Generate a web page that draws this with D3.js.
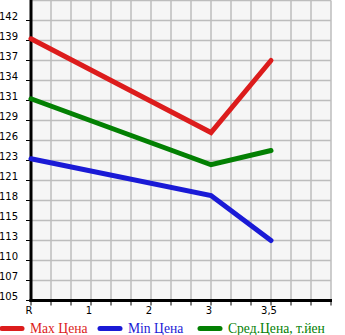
<!DOCTYPE html>
<html>
<head>
<meta charset="utf-8">
<script src="https://cdn.jsdelivr.net/npm/d3@7"></script>
<style>
  body { margin: 0; background: #fff; }
  svg { display: block; }
</style>
</head>
<body>
<div id="chart"></div>
<script>
var categories = ["R", "1", "2", "3", "3,5"];
var yTickLabels = ["105", "107", "110", "113", "115", "118", "121", "123", "126", "129", "131", "134", "137", "139", "142"];
var pointIndex = [0, 3, 4];
var maxValues = [139.9, 127.4, 137];
var minValues = [123.9, 119, 113];
var avgValues = [131.9, 123.1, 125];
var seriesNames = ["Max Цена", "Min Цена", "Сред.Цена, т.йен"];
var seriesColors = ["#dc1c1c", "#1a1ad6", "#038003"];

function drawChart() {
	var width = 345, height = 335;
	var left = 31, plotTop = 0.5, plotW = 300, plotH = 300;

	var svg = d3.select("#chart")
	  .append("svg")
	    .attr("width", width)
	    .attr("height", height);

	var x = d3.scaleLinear().domain([0, 5]).range([left, left + plotW]);
	var y = d3.scaleLinear().domain([105, 145]).range([plotTop + plotH, plotTop]);

	// plot background
	svg.append("rect")
	    .attr("x", left)
	    .attr("y", plotTop)
	    .attr("width", plotW)
	    .attr("height", plotH)
	    .attr("fill", "#f6f6f6");

	// grid
	var xGrid = d3.range(0, 16).map(function(i) { return i / 3; });
	svg.append("g")
	  .selectAll("line")
	  .data(xGrid)
	  .enter().append("line")
	    .attr("x1", function(d) { return Math.round(x(d)); })
	    .attr("x2", function(d) { return Math.round(x(d)); })
	    .attr("y1", plotTop)
	    .attr("y2", plotTop + plotH)
	    .attr("stroke", "#bdbdbd")
	    .attr("stroke-width", 1.5);

	var yGrid = d3.range(0, 16).map(function(i) { return 105 + i * 40 / 15; });
	svg.append("g")
	  .selectAll("line")
	  .data(yGrid)
	  .enter().append("line")
	    .attr("x1", left)
	    .attr("x2", left + plotW)
	    .attr("y1", function(d) { return y(d); })
	    .attr("y2", function(d) { return y(d); })
	    .attr("stroke", "#bdbdbd")
	    .attr("stroke-width", 1.5);

	// y axis labels + ticks
	var yAxis = svg.append("g");
	yAxis.selectAll("line")
	  .data(yTickLabels)
	  .enter().append("line")
	    .attr("x1", left - 5)
	    .attr("x2", left)
	    .attr("y1", function(d, i) { return y(yGrid[i]); })
	    .attr("y2", function(d, i) { return y(yGrid[i]); })
	    .attr("stroke", "#000")
	    .attr("stroke-width", 1);
	yAxis.selectAll("text")
	  .data(yTickLabels)
	  .enter().append("text")
	    .attr("x", 18)
	    .attr("y", function(d, i) { return y(yGrid[i]) - 0.5; })
	    .attr("text-anchor", "end")
	    .attr("font-family", "DejaVu Sans, sans-serif")
	    .attr("font-size", 10)
	    .attr("fill", "#000")
	    .text(function(d) { return d; });

	// x axis ticks + labels
	var xAxis = svg.append("g");
	xAxis.selectAll("line")
	  .data(xGrid)
	  .enter().append("line")
	    .attr("x1", function(d) { return Math.round(x(d)); })
	    .attr("x2", function(d) { return Math.round(x(d)); })
	    .attr("y1", plotTop + plotH)
	    .attr("y2", plotTop + plotH + 5)
	    .attr("stroke", "#000")
	    .attr("stroke-width", 1);
	xAxis.selectAll("text")
	  .data(categories)
	  .enter().append("text")
	    .attr("x", function(d, i) { return x(i) - 2; })
	    .attr("y", 314)
	    .attr("text-anchor", "middle")
	    .attr("font-family", "DejaVu Sans, sans-serif")
	    .attr("font-size", 10)
	    .attr("fill", "#000")
	    .text(function(d) { return d; });

	// axis lines
	svg.append("line")
	    .attr("x1", left).attr("x2", left)
	    .attr("y1", plotTop - 1).attr("y2", plotTop + plotH + 1.5)
	    .attr("stroke", "#000").attr("stroke-width", 3);
	svg.append("line")
	    .attr("x1", left - 1.5).attr("x2", left + plotW + 1)
	    .attr("y1", plotTop + plotH).attr("y2", plotTop + plotH)
	    .attr("stroke", "#000").attr("stroke-width", 3);

	// series
	var line = d3.line()
	    .x(function(d) { return x(d[0]); })
	    .y(function(d) { return y(d[1]); });

	[maxValues, minValues, avgValues].forEach(function(vals, s) {
		var pts = vals.map(function(v, i) { return [pointIndex[i], v]; });
		svg.append("path")
		    .datum(pts)
		    .attr("d", line)
		    .attr("fill", "none")
		    .attr("stroke", seriesColors[s])
		    .attr("stroke-width", 5)
		    .attr("stroke-linejoin", "miter")
		    .attr("stroke-linecap", "round");
	});

	// legend
	var legendX = [2, 100, 200];
	var legend = svg.append("g");
	seriesNames.forEach(function(name, s) {
		legend.append("line")
		    .attr("x1", legendX[s])
		    .attr("x2", legendX[s] + 20)
		    .attr("y1", 328.5)
		    .attr("y2", 328.5)
		    .attr("stroke", seriesColors[s])
		    .attr("stroke-width", 5)
		    .attr("stroke-linecap", "round");
		legend.append("text")
		    .attr("x", legendX[s] + 28)
		    .attr("y", 333)
		    .attr("font-family", "Liberation Serif, serif")
		    .attr("font-size", 13.6)
		    .attr("fill", seriesColors[s])
		    .text(name);
	});
}

drawChart();
</script>
</body>
</html>
